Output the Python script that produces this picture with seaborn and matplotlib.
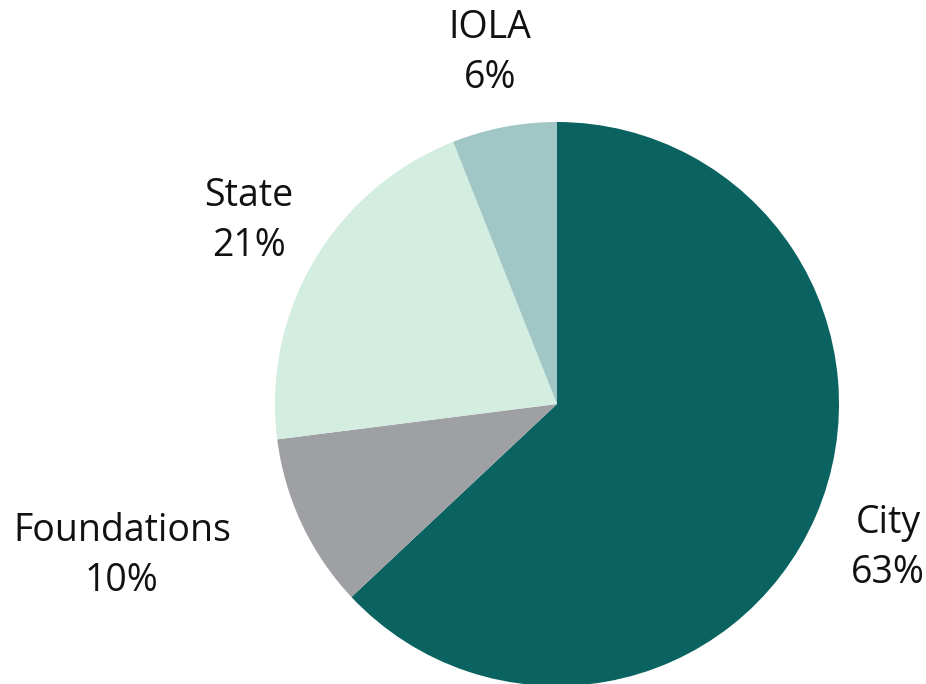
import matplotlib
matplotlib.use("Agg")
import matplotlib.pyplot as plt
import seaborn as sns

# data
categories = ["City", "Foundations", "State", "IOLA"]
shares = [63, 10, 21, 6]
colors = ["#0a6360", "#9fa0a4", "#d3ede0", "#a0c6c5"]

# label anchor points (in pie-radius units)
label_xy = [(1.174, -0.51), (-1.543, -0.54), (-1.092, 0.649), (-0.238, 1.245)]

sns.set_theme(style="white")
plt.rcParams["font.family"] = ["Open Sans", "DejaVu Sans"]

fig = plt.figure(figsize=(9.26, 6.84), dpi=100)
# pie centre at (557, 404) px, radius 282 px
r_px = 282
ax = fig.add_axes([(557 - r_px) / 926, (684 - 404 - r_px) / 684,
                   2 * r_px / 926, 2 * r_px / 684])
ax.pie(shares, colors=colors, startangle=90, counterclock=False, radius=1,
       wedgeprops=dict(linewidth=0))
ax.set_xlim(-1, 1)
ax.set_ylim(-1, 1)
ax.set_aspect("equal")
ax.axis("off")

for name, val, (x, y) in zip(categories, shares, label_xy):
    ax.text(x, y, f"{name}\n{val}%", ha="center", va="center", fontsize=27,
            color="#111111", linespacing=1.4, clip_on=False)

fig.savefig("out.png", dpi=100)
